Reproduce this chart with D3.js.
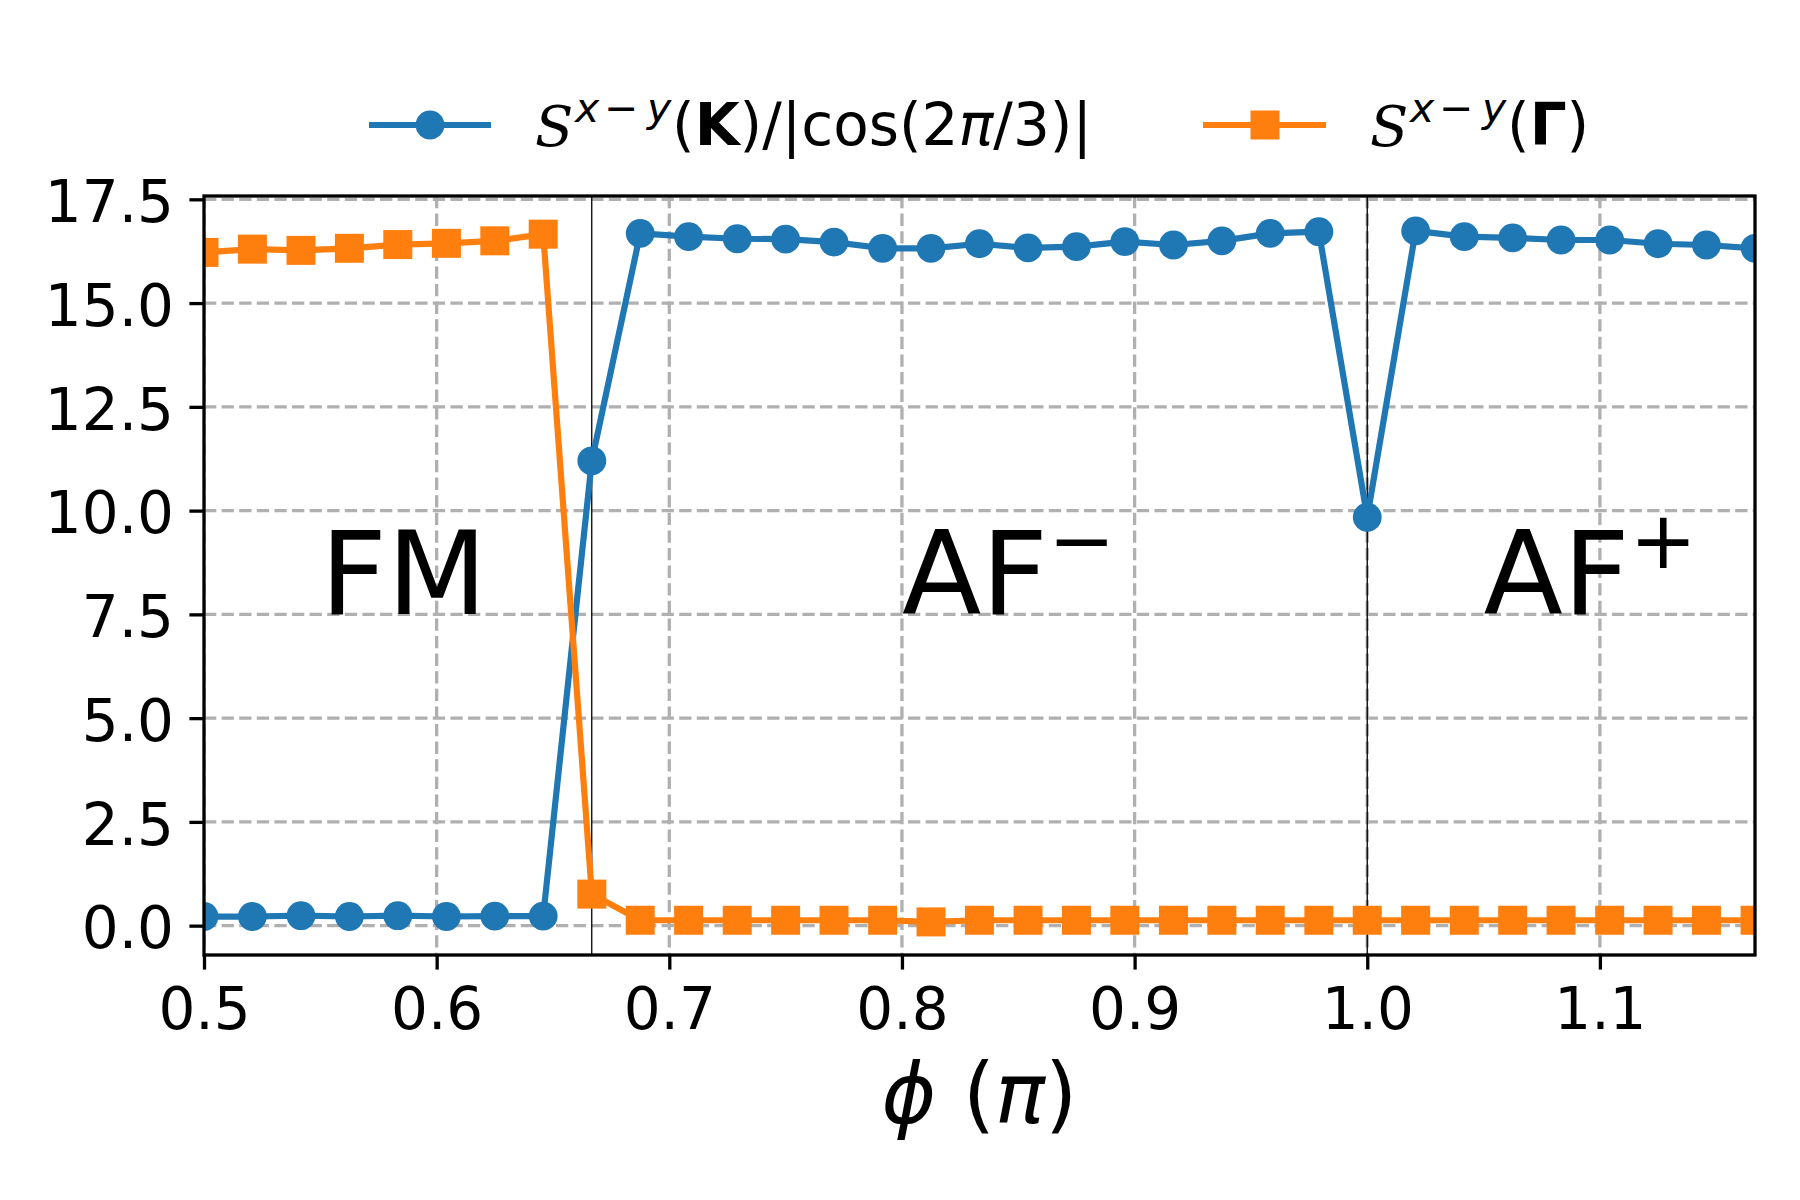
<!DOCTYPE html>
<html><head><meta charset="utf-8">
<script src="https://cdn.jsdelivr.net/npm/d3@7"></script>
<style>body{margin:0;background:#fff}</style>
</head><body>
<svg id="c" width="1800" height="1200"></svg>
<script>
// ---- data ----
const phi = [0.5, 0.5208, 0.5417, 0.5625, 0.5833, 0.6042, 0.625, 0.6458, 0.6667,
  0.6875, 0.7083, 0.7292, 0.75, 0.7708, 0.7917, 0.8125, 0.8333, 0.8542, 0.875,
  0.8958, 0.9167, 0.9375, 0.9583, 0.9792, 1.0, 1.0208, 1.0417, 1.0625, 1.0833,
  1.1042, 1.125, 1.1458, 1.1667];
const sK = [0.22, 0.22, 0.24, 0.22, 0.24, 0.22, 0.23, 0.23, 11.2,
  16.68, 16.6, 16.55, 16.54, 16.47, 16.32, 16.32, 16.43, 16.33, 16.36,
  16.48, 16.4, 16.5, 16.68, 16.72, 9.84, 16.74, 16.6, 16.57, 16.52,
  16.52, 16.43, 16.4, 16.32];
const sG = [16.22, 16.3, 16.27, 16.32, 16.41, 16.44, 16.5, 16.66, 0.76,
  0.13, 0.13, 0.13, 0.13, 0.13, 0.13, 0.09, 0.13, 0.13, 0.13,
  0.13, 0.13, 0.13, 0.13, 0.13, 0.13, 0.13, 0.13, 0.13, 0.13,
  0.13, 0.13, 0.13, 0.13];
const xTicks = [0.5, 0.6, 0.7, 0.8, 0.9, 1.0, 1.1];
const yTicks = [0, 2.5, 5, 7.5, 10, 12.5, 15, 17.5];
const transitions = [2/3, 1.0];
const phaseNames = ["FM", "AF", "AF"];
const phaseSups = ["", "\u2212", "+"];
const phaseX = [0.55, 0.8, 1.05];
const phaseY = 7.5;

// ---- layout ----
const m = {l: 204, r: 1755, t: 196, b: 955};
const FONT = "'DejaVu Sans', sans-serif";
const blue = "#1f77b4", orange = "#ff7f0e";
const svg = d3.select("#c");
svg.append("rect").attr("width", 1800).attr("height", 1200).attr("fill", "#fff");

const x = d3.scaleLinear().domain([0.5, 7/6]).range([m.l, m.r]);
const y = d3.scaleLinear().domain([-0.707, 17.58]).range([m.b, m.t]);

svg.append("defs").append("clipPath").attr("id", "clip")
  .append("rect").attr("x", m.l).attr("y", m.t)
  .attr("width", m.r - m.l).attr("height", m.b - m.t);

const plot = svg.append("g").attr("clip-path", "url(#clip)");

// grid
const gridStyle = s => s.attr("stroke", "#b0b0b0").attr("stroke-width", 3.3)
  .attr("stroke-dasharray", "12.3 5.3").attr("fill", "none");
plot.selectAll(".gx").data(xTicks).join("line")
  .attr("x1", d => x(d)).attr("x2", d => x(d)).attr("y1", m.t).attr("y2", m.b).call(gridStyle);
plot.selectAll(".gy").data(yTicks).join("line")
  .attr("y1", d => y(d)).attr("y2", d => y(d)).attr("x1", m.l).attr("x2", m.r).call(gridStyle);

// transition lines
plot.selectAll(".tr").data(transitions).join("line")
  .attr("x1", d => x(d)).attr("x2", d => x(d)).attr("y1", m.t).attr("y2", m.b)
  .attr("stroke", "#000").attr("stroke-width", 1.3);

// series
const line = d3.line().x((d, i) => x(phi[i])).y(d => y(d));
plot.append("path").datum(sK).attr("d", line).attr("fill", "none")
  .attr("stroke", blue).attr("stroke-width", 6.2).attr("stroke-linejoin", "round");
plot.selectAll(".mk").data(sK).join("circle")
  .attr("cx", (d, i) => x(phi[i])).attr("cy", d => y(d)).attr("r", 14.4).attr("fill", blue);
plot.append("path").datum(sG).attr("d", line).attr("fill", "none")
  .attr("stroke", orange).attr("stroke-width", 6.2).attr("stroke-linejoin", "round");
const sq = 29;
plot.selectAll(".ms").data(sG).join("rect")
  .attr("x", (d, i) => x(phi[i]) - sq/2).attr("y", d => y(d) - sq/2)
  .attr("width", sq).attr("height", sq).attr("fill", orange);

// phase labels
phaseNames.forEach((name, i) => {
  const t = svg.append("text").attr("x", x(phaseX[i])).attr("y", y(phaseY))
    .attr("font-family", FONT).attr("font-size", 116).attr("fill", "#000");
  t.append("tspan").text(name);
  if (phaseSups[i]) t.append("tspan").attr("font-size", 80).attr("dy", -46.5).text(phaseSups[i]);
});

// spines
svg.append("rect").attr("x", m.l).attr("y", m.t).attr("width", m.r - m.l).attr("height", m.b - m.t)
  .attr("fill", "none").attr("stroke", "#000").attr("stroke-width", 3.3);

// axes
const ya = svg.append("g").attr("transform", `translate(${m.l},0)`)
  .call(d3.axisLeft(y).tickValues(yTicks).tickFormat(d3.format(".1f")).tickSize(14.6).tickPadding(15.4));
const xa = svg.append("g").attr("transform", `translate(0,${m.b})`)
  .call(d3.axisBottom(x).tickValues(xTicks).tickFormat(d3.format(".1f")).tickSize(14.6));
[ya, xa].forEach(a => {
  a.select(".domain").remove();
  a.selectAll(".tick line").attr("stroke", "#000").attr("stroke-width", 3.3);
  a.selectAll(".tick text").attr("font-family", FONT).attr("font-size", 58).attr("fill", "#000");
});
ya.selectAll(".tick text").attr("dy", "0.385em");
xa.selectAll(".tick text").attr("y", 74).attr("dy", null);

// x label
const xl = svg.append("text").attr("x", (m.l + m.r) / 2).attr("y", 1123)
  .attr("text-anchor", "middle").attr("font-family", FONT).attr("font-size", 83).attr("fill", "#000");
xl.append("tspan").attr("font-style", "italic").text("\u03D5");
xl.append("tspan").text(" (");
xl.append("tspan").attr("font-style", "italic").text("\u03C0");
xl.append("tspan").text(")");

// legend: each label is one text element built from tspans
function mathLabel(x0, base, boldChar, tailParts) {
  const t = svg.append("text").attr("x", x0).attr("y", base)
    .attr("font-family", FONT).attr("font-size", 58).attr("fill", "#000");
  t.append("tspan").attr("x", x0 - 3).attr("y", base + 1)
    .attr("font-family", "'DejaVu Serif', serif").attr("font-style", "italic")
    .attr("font-size", 56).text("S");
  const sb = base - 23;
  const sup = (dx, s, it) => t.append("tspan").attr("x", x0 + dx).attr("y", sb)
    .attr("font-size", 41).attr("font-style", it ? "italic" : "normal").text(s);
  sup(37, "x", true); sup(66, "\u2212", false); sup(109, "y", true);
  t.append("tspan").attr("x", x0 + 134).attr("y", base).text("(");
  t.append("tspan").attr("font-weight", "bold").text(boldChar);
  tailParts.forEach(p => t.append("tspan").attr("font-style", p[1] ? "italic" : "normal").text(p[0]));
}
const legY = 125, legBase = 145;
// entry 1
svg.append("line").attr("x1", 369).attr("x2", 491).attr("y1", legY).attr("y2", legY)
  .attr("stroke", blue).attr("stroke-width", 6.2);
svg.append("circle").attr("cx", 430).attr("cy", legY).attr("r", 14.4).attr("fill", blue);
mathLabel(538, legBase, "K", [[")/|cos(2", false], ["\u03C0", true], ["/3)|", false]]);
// entry 2
svg.append("line").attr("x1", 1203).attr("x2", 1326).attr("y1", legY).attr("y2", legY)
  .attr("stroke", orange).attr("stroke-width", 6.2);
svg.append("rect").attr("x", 1265 - sq/2).attr("y", legY - sq/2).attr("width", sq).attr("height", sq).attr("fill", orange);
mathLabel(1373, legBase, "\u0393", [[")", false]]);
</script>
</body></html>
